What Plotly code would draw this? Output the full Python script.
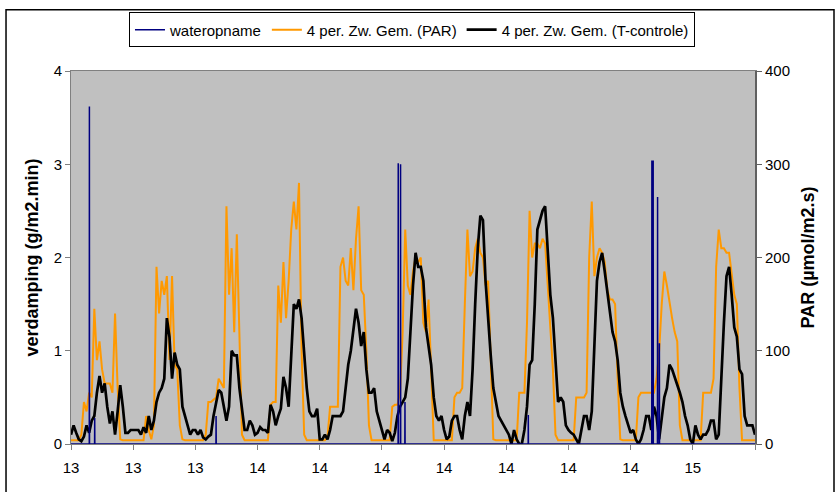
import plotly.graph_objects as go

# hourly readings (hour 0 .. 264)
verdamping = [
    0.1, 0.2, 0.12, 0.05, 0.03, 0.08, 0.2, 0.12, 0.25, 0.3, 0.55, 0.73, 0.55, 0.65, 0.4, 0.22, 0.35, 0.1, 0.35, 0.63, 0.4, 0.12, 0.12, 0.15,
    0.15, 0.15, 0.15, 0.1, 0.18, 0.12, 0.3, 0.15, 0.25, 0.45, 0.55, 0.6, 0.7, 1.35, 1.15, 0.7, 0.98, 0.85, 0.8, 0.4, 0.3, 0.2, 0.1, 0.15,
    0.15, 0.1, 0.15, 0.07, 0.05, 0.08, 0.1, 0.3, 0.45, 0.58, 0.55, 0.4, 0.25, 0.4, 1.0, 0.95, 0.95, 0.6, 0.35, 0.15, 0.15, 0.25, 0.2, 0.1,
    0.12, 0.18, 0.15, 0.15, 0.12, 0.42, 0.35, 0.2, 0.3, 0.38, 0.72, 0.6, 0.4, 0.95, 1.5, 1.45, 1.55, 1.35, 0.95, 0.6, 0.35, 0.3, 0.3, 0.38,
    0.05, 0.05, 0.1, 0.05, 0.15, 0.3, 0.3, 0.3, 0.3, 0.35, 0.6, 0.85, 1.0, 1.25, 1.45, 1.3, 1.05, 1.2, 0.8, 0.55, 0.55, 0.6, 0.35, 0.25,
    0.15, 0.05, 0.15, 0.12, 0.03, 0.12, 0.3, 0.4, 0.45, 0.5, 0.7, 1.2, 1.7, 2.05, 1.9, 1.9, 1.75, 1.25, 1.05, 0.85, 0.5, 0.3, 0.25, 0.3,
    0.15, 0.05, 0.08, 0.25, 0.3, 0.3, 0.15, 0.05, 0.3, 0.45, 0.3, 0.8, 1.5, 2.1, 2.45, 2.4, 1.75, 1.3, 0.95, 0.6, 0.45, 0.3, 0.25, 0.2,
    0.15, 0.1, 0.0, 0.15, 0.05, 0.0, 0.0, 0.15, 0.4, 0.85, 0.9, 1.5, 2.3, 2.4, 2.5, 2.55, 2.1, 1.6, 1.35, 0.85, 0.45, 0.5, 0.45, 0.2,
    0.15, 0.12, 0.1, 0.05, 0.0, 0.15, 0.3, 0.3, 0.15, 0.35, 1.1, 1.75, 1.95, 2.05, 1.85, 1.65, 1.45, 1.2, 1.1, 0.9, 0.55, 0.4, 0.3, 0.2,
    0.12, 0.15, 0.05, 0.0, 0.05, 0.15, 0.3, 0.3, 0.15, 0.4, 0.3, 0.05, 0.25, 0.5, 0.6, 0.85, 0.8, 0.72, 0.65, 0.55, 0.45, 0.3, 0.2, 0.05,
    0.0, 0.2, 0.1, 0.05, 0.1, 0.1, 0.15, 0.25, 0.25, 0.05, 0.1, 0.8, 1.3, 1.8, 1.9, 1.6, 1.25, 1.15, 0.8, 0.75, 0.3, 0.2, 0.2, 0.2, 0.1,
]

par = [
    4, 4, 4, 4, 10, 45, 35, 55, 50, 145, 90, 110, 80, 65, 65, 65, 55, 140, 60, 5, 4, 4, 4, 4,
    4, 4, 4, 4, 4, 30, 15, 5, 20, 190, 140, 175, 160, 180, 90, 180, 85, 80, 20, 5, 4, 4, 4, 4,
    4, 4, 4, 4, 10, 45, 45, 48, 50, 70, 65, 60, 255, 160, 210, 120, 225, 110, 10, 4, 4, 4, 4, 4,
    4, 4, 4, 4, 4, 42, 45, 45, 170, 130, 195, 135, 175, 230, 260, 230, 280, 100, 10, 4, 4, 4, 4, 4,
    4, 4, 4, 8, 40, 40, 40, 40, 190, 200, 175, 170, 210, 165, 220, 255, 165, 160, 100, 20, 4, 4, 4, 4,
    4, 4, 4, 4, 40, 42, 42, 55, 120, 230, 170, 160, 185, 200, 195, 200, 130, 120, 155, 80, 4, 4, 4, 4,
    4, 4, 4, 4, 50, 55, 55, 60, 150, 230, 180, 185, 210, 220, 205, 200, 170, 175, 90, 5, 4, 4, 4, 4,
    4, 4, 4, 4, 4, 55, 55, 55, 130, 250, 200, 215, 215, 210, 220, 215, 170, 130, 80, 10, 4, 4, 4, 4,
    4, 4, 4, 50, 50, 50, 50, 55, 200, 260, 180, 200, 210, 205, 195, 165, 155, 155, 150, 70, 5, 4, 4, 4,
    4, 4, 4, 50, 55, 55, 55, 55, 55, 55, 70, 100, 150, 185, 170, 150, 135, 120, 110, 20, 4, 4, 4, 4,
    4, 4, 4, 4, 55, 55, 55, 55, 70, 190, 230, 210, 210, 205, 205, 185, 160, 150, 60, 4, 4, 4, 4, 4, 4,
]

# water uptake events (hour, g/m2.min)
water_hours = [7.1, 9.15, 56.0, 126.3, 127.2, 128.9, 176.5, 224.2, 224.7, 226.4, 227.1]
water_values = [3.62, 0.28, 0.3, 3.01, 3.0, 0.45, 0.31, 3.04, 3.04, 2.65, 1.08]

tick_labels = ["13", "13", "13", "14", "14", "14", "14", "14", "14", "14", "15", ""]

hours = list(range(len(verdamping)))

# waterstake series: zero except at the events
wx, wy = [0], [0]
for t, v in zip(water_hours, water_values):
    wx += [t - 0.05, t, t + 0.05]
    wy += [0, v, 0]
wx.append(hours[-1])
wy.append(0)

fig = go.Figure()
# PAR drawn on the left scale (1 : 100) so the black line sits on top of it
fig.add_trace(go.Scatter(x=hours, y=[p / 100 for p in par], mode="lines", name="4 per. Zw. Gem. (PAR)",
                         line=dict(color="#FF9900", width=2), legendrank=2))
fig.add_trace(go.Scatter(x=hours, y=verdamping, mode="lines", name="4 per. Zw. Gem. (T-controle)",
                         line=dict(color="black", width=2.7), legendrank=3))
fig.add_trace(go.Scatter(x=wx, y=wy, mode="lines", name="wateropname",
                         line=dict(color="#000080", width=1.5), legendrank=1))
# right axis carrier
fig.add_trace(go.Scatter(x=hours, y=par, yaxis="y2", mode="lines", showlegend=False,
                         hoverinfo="skip", line=dict(width=0), opacity=0))

font = dict(family="Liberation Sans, Arial", size=15, color="black")

fig.update_layout(
    width=837, height=492,
    margin=dict(l=71, r=82, t=69, b=48),
    paper_bgcolor="white", plot_bgcolor="#C0C0C0",
    font=font,
    showlegend=True,
    legend=dict(orientation="h", x=0.4985, xanchor="center", y=1.157, yanchor="top",
                bordercolor="black", borderwidth=1, bgcolor="white",
                font=dict(family="Liberation Sans, Arial", size=15),
                itemwidth=30, tracegroupgap=0),
    xaxis=dict(range=[0, 264], tickvals=list(range(0, 265, 24)), ticktext=tick_labels,
               showgrid=False, zeroline=False, showline=True, linecolor="#808080", mirror=True,
               ticks="outside", ticklen=5, tickcolor="#808080", ticklabelstandoff=5, automargin=False),
    yaxis=dict(range=[0, 4], tickvals=[0, 1, 2, 3, 4], showgrid=False, zeroline=False,
               showline=True, linecolor="#808080", ticks="outside", ticklen=5, tickcolor="#808080",
               automargin=False,
               title=dict(text="<b>verdamping (g/m2.min)</b>", standoff=10)),
    yaxis2=dict(range=[0, 400], tickvals=[0, 100, 200, 300, 400], overlaying="y", side="right",
                showgrid=False, zeroline=False, showline=True, linecolor="#606060", linewidth=2,
                ticks="outside", ticklen=5, tickcolor="#606060", automargin=False,
                title=dict(text="<b>PAR (µmol/m2.s)</b>", standoff=12)),
    shapes=[dict(type="rect", xref="paper", yref="paper", x0=-0.095, x1=1.1155, y0=-0.16, y1=1.164,
                 line=dict(color="black", width=1.5), fillcolor="rgba(0,0,0,0)", layer="below")],
)

fig.write_html("out.html", config={"displayModeBar": False},
               post_script="document.body.style.margin='0';")
